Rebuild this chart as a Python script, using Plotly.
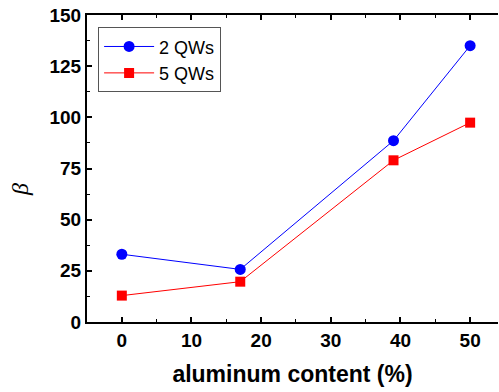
import plotly.graph_objects as go

x_vals = [0, 17, 39, 50]
qw2 = [33.1, 25.7, 88.6, 135.0]
qw5 = [12.9, 19.7, 79.0, 97.4]
x_ticks = [0, 10, 20, 30, 40, 50]
y_ticks = [0, 25, 50, 75, 100, 125, 150]

fig = go.Figure()
fig.add_trace(go.Scatter(x=x_vals, y=qw2, mode="lines+markers", name="2 QWs",
                         line=dict(color="#0000ff", width=1),
                         marker=dict(symbol="circle", size=11, color="#0000ff")))
fig.add_trace(go.Scatter(x=x_vals, y=qw5, mode="lines+markers", name="5 QWs",
                         line=dict(color="#ff0000", width=1),
                         marker=dict(symbol="square", size=10, color="#ff0000")))

axis_font = dict(family="Arial, Liberation Sans", size=19, color="black", weight="bold")
fig.update_layout(
    width=499, height=392,
    margin=dict(l=87, r=1, t=15, b=70),
    plot_bgcolor="white", paper_bgcolor="white",
    showlegend=True,
    legend=dict(x=0.027, y=0.96, xanchor="left", yanchor="top",
                bordercolor="#555555", borderwidth=1, bgcolor="white",
                font=dict(family="Arial, Liberation Sans", size=18, color="black"),
                tracegroupgap=0, itemwidth=50),
    xaxis=dict(range=[-5, 54], tickvals=x_ticks, ticktext=[f"<b>{v}</b>" for v in x_ticks],
               ticks="inside", ticklen=5, tickwidth=1.5, tickcolor="black",
               minor=dict(dtick=5, ticks="inside", ticklen=3, tickwidth=1.2, tickcolor="black"),
               showline=True, linewidth=2, linecolor="black", mirror="allticks",
               showgrid=False, zeroline=False, tickfont=axis_font,
               title=dict(text="aluminum content (%)", standoff=16,
                          font=dict(family="Arial, Liberation Sans", size=23, color="black",
                                    weight="bold"))),
    yaxis=dict(range=[0, 150], tickvals=y_ticks, ticktext=[f"<b>{v}</b>" for v in y_ticks],
               ticks="inside", ticklen=5, tickwidth=1.5, tickcolor="black",
               minor=dict(dtick=12.5, ticks="inside", ticklen=3, tickwidth=1.2, tickcolor="black"),
               showline=True, linewidth=2, linecolor="black", mirror=False,
               showgrid=False, zeroline=False, tickfont=axis_font),
    annotations=[dict(text="<i>β</i>", xref="paper", yref="paper",
                      x=(20 - 87) / 411, y=(322 - 190) / 307,
                      xanchor="center", yanchor="middle", showarrow=False, textangle=-90,
                      font=dict(family="Liberation Serif", size=24, color="black"))],
)
fig.write_html("out.html")
